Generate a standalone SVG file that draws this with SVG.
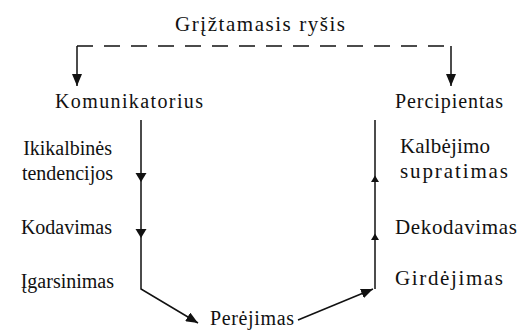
<svg xmlns="http://www.w3.org/2000/svg" width="520" height="331" viewBox="0 0 520 331">
<style>
text{font-family:"Liberation Serif","Times New Roman",serif;fill:#111}
.t{font-size:20px}
.r{font-size:21px}
.ln{stroke:#111;stroke-width:1.5;fill:none}
.dash{stroke-dasharray:16 11}
.ah{fill:#111}
</style>
<defs>
<marker id="arr" viewBox="0 0 12 10" refX="12" refY="5" markerWidth="12" markerHeight="10" markerUnits="userSpaceOnUse" orient="auto">
<path d="M0,0 L12,5 L0,10 z" fill="#111"/>
</marker>
</defs>
<g id="feedback">
<text class="r" x="175" y="31" textLength="170">Grįžtamasis ryšis</text>
</g>
<g id="komunikatorius"><text class="t" x="55" y="108" textLength="148">Komunikatorius</text></g>
<g id="percipientas"><text class="t" x="395" y="108" textLength="108">Percipientas</text></g>
<g id="ikikalbines"><text class="t" x="112" y="155" text-anchor="end">Ikikalbinės</text><text class="t" x="113" y="180" text-anchor="end">tendencijos</text></g>
<g id="kodavimas"><text class="t" x="112" y="234" text-anchor="end">Kodavimas</text></g>
<g id="igarsinimas"><text class="t" x="114" y="288" text-anchor="end">Įgarsinimas</text></g>
<g id="perejimas"><text class="t" x="210" y="325" textLength="84">Perėjimas</text></g>
<g id="kalbejimo"><text class="r" x="400" y="153" textLength="90">Kalbėjimo</text><text class="r" x="400" y="178" textLength="108">supratimas</text></g>
<g id="dekodavimas"><text class="r" x="395" y="234" textLength="122">Dekodavimas</text></g>
<g id="girdejimas"><text class="r" x="395" y="285" textLength="108">Girdėjimas</text></g>
<g id="connectors">
<path class="ln dash" d="M77,46 H451"/>
<path class="ln" d="M77,46 V86" marker-end="url(#arr)"/>
<path class="ln" d="M451,46 V86" marker-end="url(#arr)"/>
<path class="ln" d="M141,120 V289 L198,323" marker-end="url(#arr)"/>
<polygon class="ah" points="135.5,173 146.5,173 141,182"/>
<polygon class="ah" points="135.5,229 146.5,229 141,238"/>
<path class="ln" d="M375,289 V120"/>
<path class="ln" d="M298,320 L373,289" marker-end="url(#arr)"/>
<polygon class="ah" points="375,175.5 371,182 379,182"/>
<polygon class="ah" points="375,233.5 371,240 379,240"/>
</g>
</svg>
